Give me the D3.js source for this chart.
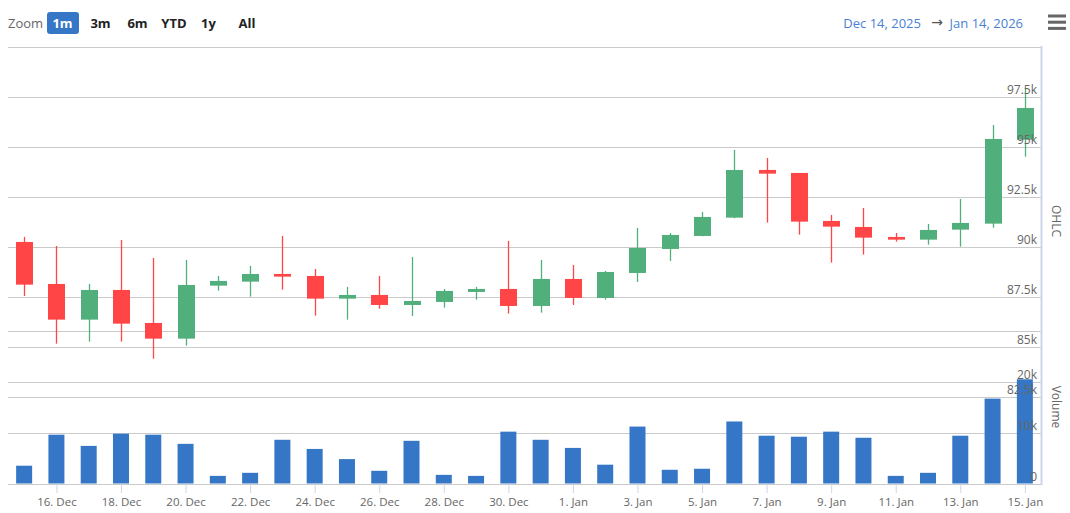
<!DOCTYPE html>
<html>
<head>
<meta charset="utf-8">
<script src="https://cdn.jsdelivr.net/npm/d3@7"></script>
<style>
  html, body { margin: 0; padding: 0; background: #fff; }
  svg { display: block; font-family: "Open Sans", "Noto Sans", sans-serif; }
</style>
</head>
<body>
<svg id="chart" width="1070" height="513"></svg>
<script>
// ---- data ----
const dates = [
  "2025-12-15","2025-12-16","2025-12-17","2025-12-18","2025-12-19","2025-12-20","2025-12-21","2025-12-22",
  "2025-12-23","2025-12-24","2025-12-25","2025-12-26","2025-12-27","2025-12-28","2025-12-29","2025-12-30",
  "2025-12-31","2026-01-01","2026-01-02","2026-01-03","2026-01-04","2026-01-05","2026-01-06","2026-01-07",
  "2026-01-08","2026-01-09","2026-01-10","2026-01-11","2026-01-12","2026-01-13","2026-01-14","2026-01-15"
];
const openV  = [90267,88167,86383,87867,86217,85433,88083,88283,88667,88567,87433,87617,87117,87267,87767,87917,
                87067,88417,87467,88717,89917,90567,91483,93867,93717,91317,91017,90517,90383,90883,91183,95383];
const highV  = [90517,90067,88167,90367,89467,89367,88567,89067,90567,88917,88017,88567,89517,87917,88017,90317,
                89367,89117,88817,90967,90717,91767,94867,94467,93717,91617,91967,90717,91167,92417,96117,97967];
const lowV   = [87567,85183,85283,85283,84433,85083,87833,87533,87883,86583,86383,86933,86567,86983,87383,86683,
                86733,87117,87383,88267,89317,90550,91450,91233,90633,89233,89633,90283,90133,90033,90983,94533];
const closeV = [88133,86383,87867,86183,85433,88117,88317,88667,88533,87433,87617,87117,87317,87817,87917,87067,
                88417,87467,88767,89967,90617,91517,93867,93683,91283,91033,90483,90383,90867,91217,95417,96967];
const volumeV = [3500,9600,7400,9800,9600,7800,1500,2100,8600,6800,4800,2500,8400,1700,1500,10200,
                 8600,7000,3700,11200,2700,2900,12200,9400,9200,10200,9000,1500,2100,9400,16700,20500];
const xTickDates = ["2025-12-16","2025-12-18","2025-12-20","2025-12-22","2025-12-24","2025-12-26","2025-12-28","2025-12-30",
                    "2026-01-01","2026-01-03","2026-01-05","2026-01-07","2026-01-09","2026-01-11","2026-01-13","2026-01-15"];
const priceTicks = [82500,85000,87500,90000,92500,95000,97500,100000];
const priceLabelTicks = [82500,85000,87500,90000,92500,95000,97500];
const volumeTicks = [0,10000,20000,30000];
const volumeLabelTicks = [0,10000,20000];
const zoomButtons = ["1m","3m","6m","YTD","1y","All"];
const rangeFrom = "Dec 14, 2025";
const rangeTo = "Jan 14, 2026";

// ---- layout ----
const svg = d3.select("#chart");
const plotL = 8, plotR = 1041, plotT = 46, plotB = 484;
const DAY = 864e5;
const parse = d3.utcParse("%Y-%m-%d");
const data = dates.map((d, i) => ({
  date: parse(d), o: openV[i], h: highV[i], l: lowV[i], c: closeV[i], v: volumeV[i]
}));

const x = d3.scaleUtc()
  .domain([new Date(+parse(dates[0]) - DAY / 2), new Date(+parse(dates[dates.length - 1]) + DAY / 2)])
  .range([plotL, plotR]);
const yP = d3.scaleLinear().domain([78165, 100065]).range([plotB, plotT]);
const yV = d3.scaleLinear().domain([0, 30000]).range([483.5, 331]);

const gridColor = "#cacaca";
const axisColor = "#ccd6eb";
const labelColor = "#666666";
const up = "#51af7b", down = "#ff4545", volColor = "#3577c6";

// gridlines
const grid = svg.append("g");
grid.selectAll("line.p").data(priceTicks).join("line")
  .attr("x1", plotL).attr("x2", plotR)
  .attr("y1", d => Math.round(yP(d)) + 0.5).attr("y2", d => Math.round(yP(d)) + 0.5)
  .attr("stroke", gridColor).attr("stroke-width", 1);
grid.selectAll("line.v").data(volumeTicks).join("line")
  .attr("x1", plotL).attr("x2", plotR)
  .attr("y1", d => Math.round(yV(d)) + 0.5).attr("y2", d => Math.round(yV(d)) + 0.5)
  .attr("stroke", gridColor).attr("stroke-width", 1);

// volume bars
const bw = 16;
svg.append("g").selectAll("rect").data(data).join("rect")
  .attr("x", d => x(d.date) - bw / 2)
  .attr("y", d => yV(d.v))
  .attr("width", bw)
  .attr("height", d => yV(0) - yV(d.v))
  .attr("fill", volColor);

// candles
const cw = 17;
const cg = svg.append("g").selectAll("g").data(data).join("g");
cg.append("line")
  .attr("x1", d => Math.round(x(d.date)) + 0.5).attr("x2", d => Math.round(x(d.date)) + 0.5)
  .attr("y1", d => yP(d.h)).attr("y2", d => yP(d.l))
  .attr("stroke", d => d.c >= d.o ? up : down).attr("stroke-width", 1.3);
cg.append("rect")
  .attr("x", d => Math.round(x(d.date)) + 0.5 - cw / 2)
  .attr("y", d => yP(Math.max(d.o, d.c)))
  .attr("width", cw)
  .attr("height", d => Math.max(2, Math.abs(yP(d.o) - yP(d.c))))
  .attr("fill", d => d.c >= d.o ? up : down);

// right axis line
svg.append("line").attr("x1", plotR + 0.5).attr("x2", plotR + 0.5)
  .attr("y1", plotT).attr("y2", plotB + 1).attr("stroke", axisColor).attr("stroke-width", 2);

// price labels
svg.append("g").selectAll("text").data(priceLabelTicks).join("text")
  .attr("x", plotR - 4).attr("y", d => yP(d) - 3)
  .attr("text-anchor", "end").attr("font-size", 12).attr("fill", labelColor)
  .text(d => d3.format("~g")(d / 1000) + "k");
// volume labels
svg.append("g").selectAll("text").data(volumeLabelTicks).join("text")
  .attr("x", plotR - 4).attr("y", d => yV(d) - 3)
  .attr("text-anchor", "end").attr("font-size", 12).attr("fill", labelColor)
  .text(d => d === 0 ? "0" : d3.format("~g")(d / 1000) + "k");

// axis titles
svg.append("text").attr("transform", "translate(1052,221) rotate(90)")
  .attr("text-anchor", "middle").attr("font-size", 12).attr("fill", labelColor).text("OHLC");
svg.append("text").attr("transform", "translate(1052,407) rotate(90)")
  .attr("text-anchor", "middle").attr("font-size", 12).attr("fill", labelColor).text("Volume");

// x axis
const xAxis = d3.axisBottom(x)
  .tickValues(xTickDates.map(parse))
  .tickFormat(d3.utcFormat("%-d. %b"))
  .tickSize(9).tickPadding(5);
const gx = svg.append("g").attr("transform", `translate(0,${plotB})`).call(xAxis);
gx.select(".domain").remove();
gx.selectAll(".tick line").attr("stroke", axisColor);
gx.selectAll(".tick text").attr("fill", labelColor).attr("font-size", 11.5)
  .attr("font-family", "'Open Sans', sans-serif");

// zoom buttons
svg.append("text").attr("x", 8).attr("y", 28).attr("font-size", 13).attr("fill", labelColor).text("Zoom");
const btnX = [62.5, 100.5, 137.5, 174, 208.5, 247];
const bg = svg.append("g").selectAll("g").data(zoomButtons).join("g");
bg.filter((d, i) => i === 0).append("rect")
  .attr("x", 47).attr("y", 12).attr("width", 32).attr("height", 22).attr("rx", 3)
  .attr("fill", "#3577c6");
bg.append("text")
  .attr("x", (d, i) => btnX[i]).attr("y", 28)
  .attr("text-anchor", "middle").attr("font-size", 13).attr("font-weight", "bold")
  .attr("fill", (d, i) => i === 0 ? "#ffffff" : "#222222")
  .text(d => d);

// date range
svg.append("text").attr("x", 1023).attr("y", 27.5).attr("text-anchor", "end")
  .attr("font-size", 13).attr("fill", "#4a7fd4").text(rangeTo);
svg.append("text").attr("x", 937).attr("y", 27).attr("text-anchor", "middle")
  .attr("font-size", 14).attr("font-family", "'DejaVu Sans', sans-serif")
  .attr("fill", "#555555").text("→");
svg.append("text").attr("x", 921).attr("y", 27.5).attr("text-anchor", "end")
  .attr("font-size", 13).attr("fill", "#4a7fd4").text(rangeFrom);

// hamburger menu
svg.append("g").selectAll("rect").data([0, 1, 2]).join("rect")
  .attr("x", 1048).attr("y", d => 14.5 + d * 6.2).attr("width", 18).attr("height", 3)
  .attr("fill", "#666666");
</script>
</body>
</html>
